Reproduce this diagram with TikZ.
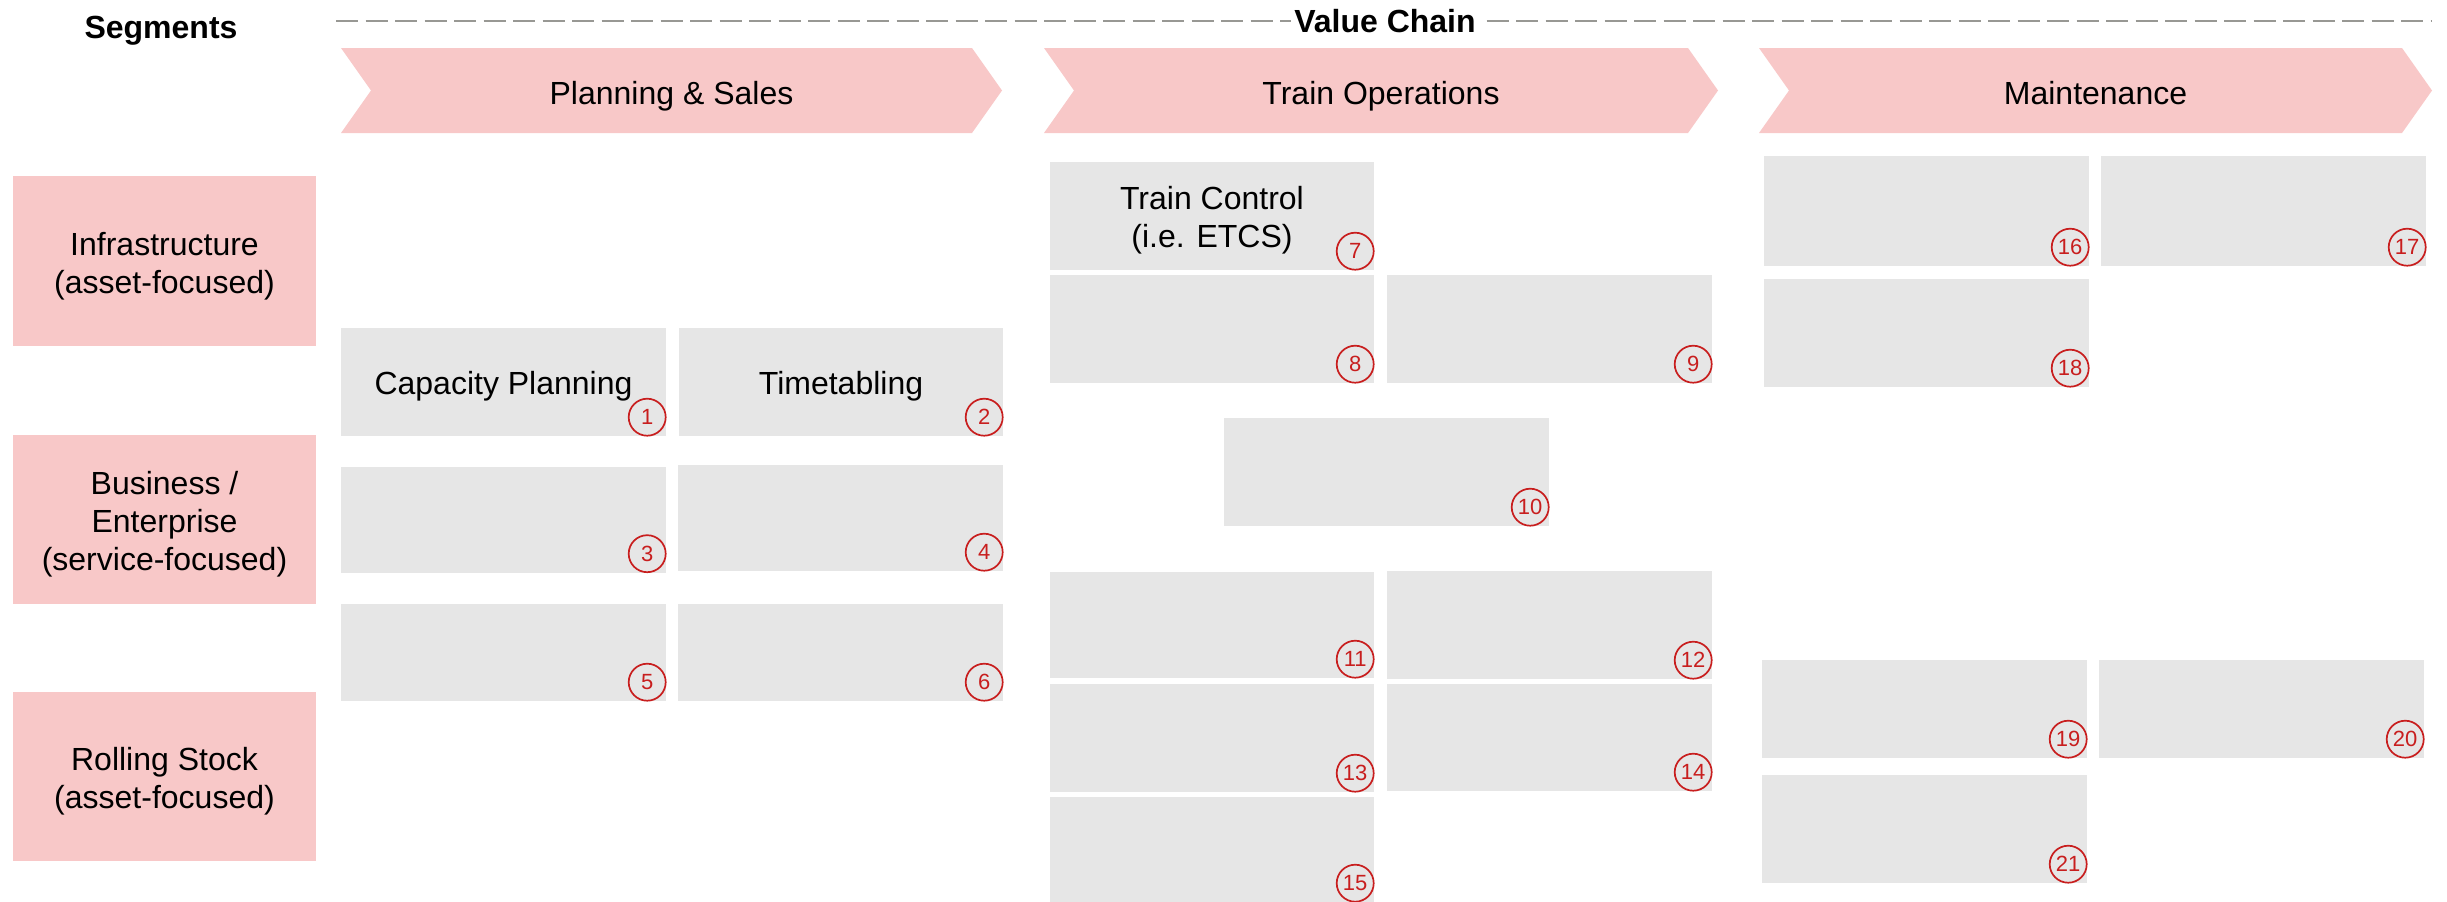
\documentclass[tikz,border=0pt]{standalone}
\usepackage{fontspec}
\setmainfont{Liberation Sans}

\definecolor{segpink}{RGB}{248,200,200}
\definecolor{cellgray}{RGB}{230,230,230}
\definecolor{numred}{RGB}{200,30,30}
\definecolor{dashgray}{RGB}{152,152,148}

\tikzset{
  txt/.style={font=\fontsize{32}{38}\selectfont, align=center, inner sep=0pt},
  boldtxt/.style={font=\fontsize{32}{38}\selectfont\bfseries},
  segbox/.style={fill=segpink, inner sep=0pt, minimum width=303},
  cell/.style={fill=cellgray, inner sep=0pt},
  numc/.style={circle, draw=numred, line width=1.7, minimum size=37, inner sep=0pt,
    text=numred, font=\fontsize{22}{22}\selectfont},
  chevtxt/.style={txt, anchor=base},
  chainline/.style={draw=dashgray, line width=2.6, dash pattern=on 22 off 7.5},
}

% cell: name, centre x, centre y, width, height, number, text
\newcommand\cellbox[7]{%
  \node[cell, minimum width=#4, minimum height=#5] (#1) at (#2,#3) {};
  \node[txt, yshift=-4pt] (#1t) at (#1.center) {#7};
  \node[numc] (#1n) at ([shift={(-19,-19)}]#1.south east) {#6};
}
% segment box: name, centre y, height, text
\newcommand\segment[4]{%
  \node[segbox, minimum height=#3] (#1) at (164.5,#2) {};
  \node[txt, yshift=-5pt] (#1t) at (#1.center) {#4};
}
% chevron: name, left x, body right x, label
\newcommand\chevron[4]{%
  \fill[segpink] (#2,48) -- (#3,48) -- ({#3+30},90.5) -- (#3,133)
    -- (#2,133) -- ({#2+30},90.5) -- cycle;
  \node[chevtxt] (#1) at ({(#2+#3+30)/2},104) {#4};
}

\begin{document}
\begin{tikzpicture}[x=1pt,y=-1pt]
  \useasboundingbox[fill=white] (0,0) rectangle (2447,902);

  % headings
  \node[boldtxt, anchor=base] (segments) at (161,38.5) {Segments};
  \coordinate (chainL) at (336,21);
  \coordinate (chainR) at (2432,21);
  \draw[chainline] (chainL) -- (chainR);
  \node[boldtxt, fill=white, inner xsep=3pt, inner ysep=2pt] (chain) at (1385,21) {Value Chain};

  % value chain stages
  \chevron{plan}{341}{972}{Planning \& Sales}
  \chevron{ops}{1044}{1688}{Train Operations}
  \chevron{maint}{1759}{2402}{Maintenance}

  % segments
  \segment{infra}{261}{170}{Infrastructure\\(asset-focused)}
  \segment{biz}{519.5}{169}{Business /\\Enterprise\\(service-focused)}
  \segment{rolling}{776.5}{169}{Rolling Stock\\(asset-focused)}

  % planning & sales
  \cellbox{c1}{503.5}{382}{325}{108}{1}{Capacity Planning}
  \cellbox{c2}{841}{382}{324}{108}{2}{Timetabling}
  \cellbox{c3}{503.5}{519.75}{325}{105.5}{3}{}
  \cellbox{c4}{840.5}{518}{325}{106}{4}{}
  \cellbox{c5}{503.5}{652.5}{325}{97}{5}{}
  \cellbox{c6}{840.5}{652.5}{325}{97}{6}{}

  % train operations
  \cellbox{c7}{1212}{216}{324}{108}{7}{Train Control\\(i.e. ETCS)}
  \cellbox{c8}{1212}{329}{324}{108}{8}{}
  \cellbox{c9}{1549.5}{329}{325}{108}{9}{}
  \cellbox{c10}{1386.5}{472}{325}{108}{10}{}
  \cellbox{c11}{1212}{625}{324}{106}{11}{}
  \cellbox{c12}{1549.5}{625}{325}{108}{12}{}
  \cellbox{c13}{1212}{738}{324}{108}{13}{}
  \cellbox{c14}{1549.5}{737.5}{325}{107}{14}{}
  \cellbox{c15}{1212}{849.5}{324}{105}{15}{}

  % maintenance
  \cellbox{c16}{1926.5}{211}{325}{110}{16}{}
  \cellbox{c17}{2263.5}{211}{325}{110}{17}{}
  \cellbox{c18}{1926.5}{333}{325}{108}{18}{}
  \cellbox{c19}{1924.5}{709}{325}{98}{19}{}
  \cellbox{c20}{2261.5}{709}{325}{98}{20}{}
  \cellbox{c21}{1924.5}{829}{325}{108}{21}{}
\end{tikzpicture}
\end{document}
